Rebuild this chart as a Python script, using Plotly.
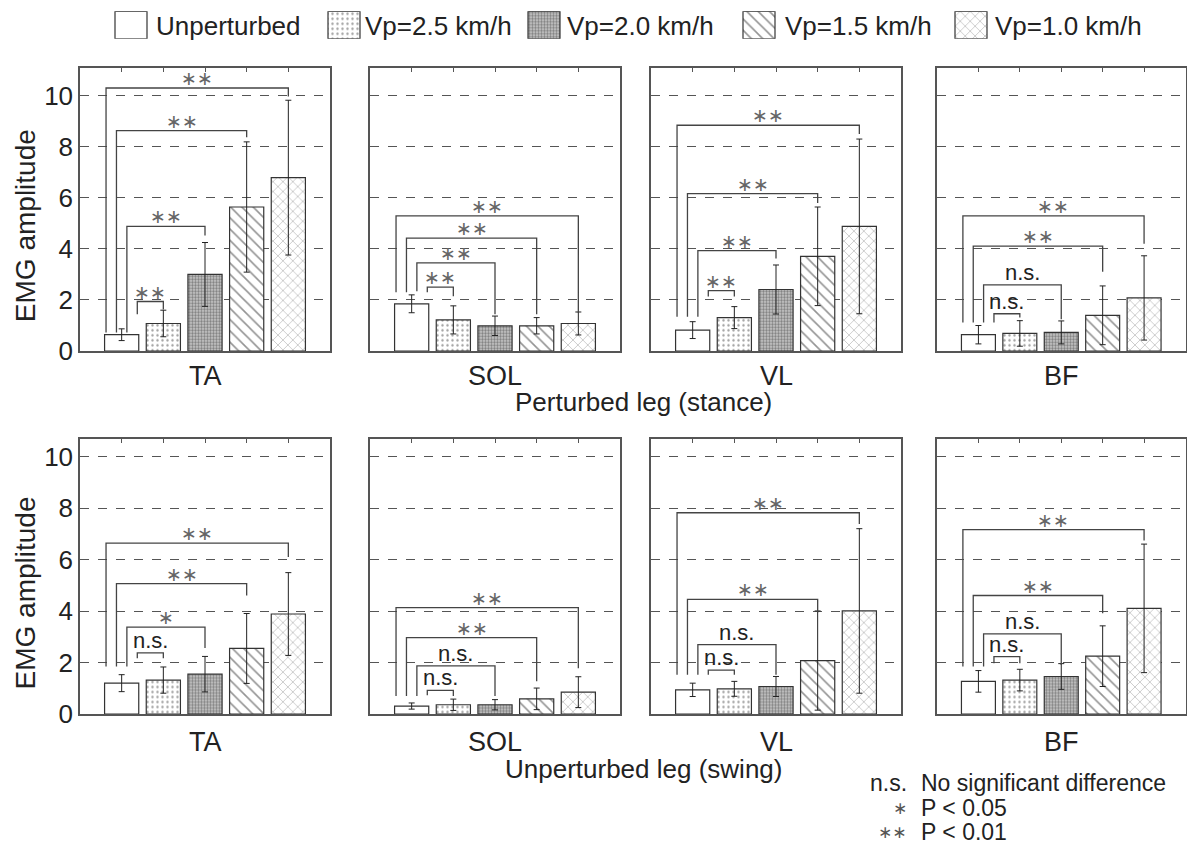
import plotly.graph_objects as go

# ---------------- data ----------------
muscles = ["TA", "SOL", "VL", "BF"]
conditions = ["Unperturbed", "Vp=2.5 km/h", "Vp=2.0 km/h", "Vp=1.5 km/h", "Vp=1.0 km/h"]
row_titles = ["Perturbed leg (stance)", "Unperturbed leg (swing)"]

# Perturbed leg (stance): mean and SD per muscle (TA, SOL, VL, BF), per condition
stance_mean_TA = [0.64, 1.08, 3.00, 5.64, 6.79]
stance_sd_TA = [0.23, 0.52, 1.25, 2.55, 3.03]
stance_mean_SOL = [1.85, 1.22, 0.99, 0.99, 1.08]
stance_sd_SOL = [0.35, 0.55, 0.38, 0.32, 0.45]
stance_mean_VL = [0.82, 1.31, 2.41, 3.71, 4.88]
stance_sd_VL = [0.33, 0.43, 0.96, 1.93, 3.42]
stance_mean_BF = [0.64, 0.69, 0.73, 1.40, 2.08]
stance_sd_BF = [0.36, 0.50, 0.45, 1.15, 1.65]

# Unperturbed leg (swing)
swing_mean_TA = [1.20, 1.32, 1.55, 2.55, 3.89]
swing_sd_TA = [0.33, 0.51, 0.69, 1.36, 1.61]
swing_mean_SOL = [0.31, 0.36, 0.36, 0.59, 0.85]
swing_sd_SOL = [0.12, 0.22, 0.20, 0.42, 0.60]
swing_mean_VL = [0.94, 0.98, 1.07, 2.08, 4.01]
swing_sd_VL = [0.26, 0.29, 0.39, 1.93, 3.20]
swing_mean_BF = [1.27, 1.32, 1.46, 2.25, 4.11]
swing_sd_BF = [0.42, 0.42, 0.50, 1.18, 2.50]

# significance brackets: Unperturbed vs. Vp=2.5, 2.0, 1.5, 1.0
compared_bar = [2, 3, 4, 5]
stance_bracket_top = [[1.94, 4.88, 8.63, 10.30], [2.50, 3.45, 4.42, 5.29],
                      [2.37, 3.93, 6.16, 8.84], [1.46, 2.59, 4.11, 5.29]]
stance_bracket_left_end = [[1.44, 0.73, 0.73, 0.73], [2.30, 2.34, 2.30, 2.30],
                           [2.14, 1.34, 1.34, 1.34], [1.12, 1.12, 1.12, 1.12]]
stance_bracket_right_end = [[1.63, 4.52, 8.37, 9.97], [2.15, 1.44, 1.44, 1.50],
                            [2.14, 3.62, 5.80, 8.50], [1.31, 1.25, 3.11, 4.20]]
stance_sig = [["**", "**", "**", "**"], ["**", "**", "**", "**"],
              ["**", "**", "**", "**"], ["n.s.", "n.s.", "**", "**"]]

swing_bracket_top = [[2.38, 3.38, 5.07, 6.65], [0.92, 1.87, 2.97, 4.14],
                     [1.71, 2.70, 4.46, 7.83], [2.23, 3.12, 4.61, 7.17]]
swing_bracket_left_end = [[2.17, 1.85, 1.85, 1.85], [0.73, 0.70, 0.70, 0.70],
                          [1.53, 1.53, 1.53, 1.53], [1.97, 1.85, 1.85, 1.85]]
swing_bracket_right_end = [[2.17, 2.57, 4.61, 6.11], [0.70, 0.70, 1.27, 1.78],
                           [1.53, 1.53, 3.95, 7.39], [1.97, 1.91, 3.92, 6.75]]
swing_sig = [["n.s.", "*", "**", "**"], ["n.s.", "n.s.", "**", "**"],
             ["n.s.", "n.s.", "**", "**"], ["n.s.", "n.s.", "**", "**"]]

y_ticks = [0, 2, 4, 6, 8, 10]

# ---------------- styling / layout ----------------
W, H = 1187, 859
FONT = "Liberation Sans, Arial, sans-serif"
STAR_FONT = "DejaVu Sans, sans-serif"
TXT = "#222222"
EDGE = "#333333"

def px_x(p):
    return p / W

def px_y(p):
    return 1 - p / H

def star(s):
    return s.replace("*", "\u2217")

col_px = [(80, 330), (370, 620), (651, 901), (937, 1185.5)]
row_px = [(69, 357.3), (447.3, 726.7)]
row_ymax = [11.09, 10.68]
leg_offset = [0.375, 0.125, -0.125, -0.375]

styles = [
    dict(color="white", line=dict(color=EDGE, width=1.2)),
    dict(color="white", line=dict(color=EDGE, width=1.2),
         pattern=dict(shape=".", size=5, solidity=0.18, fgcolor="#444444", bgcolor="white", fillmode="overlay")),
    dict(color="#c0c0c0", line=dict(color=EDGE, width=1.2),
         pattern=dict(shape=".", size=3, solidity=0.5, fgcolor="#333333", bgcolor="#cccccc", fillmode="overlay")),
    dict(color="white", line=dict(color=EDGE, width=1.2),
         pattern=dict(shape="\\", size=8, solidity=0.2, fgcolor="#2a2a2a", bgcolor="white", fillmode="overlay")),
    dict(color="white", line=dict(color=EDGE, width=1.2),
         pattern=dict(shape="x", size=7, solidity=0.18, fgcolor="#6a6a6a", bgcolor="white", fillmode="overlay")),
]

means = [[stance_mean_TA, stance_mean_SOL, stance_mean_VL, stance_mean_BF],
         [swing_mean_TA, swing_mean_SOL, swing_mean_VL, swing_mean_BF]]
sds = [[stance_sd_TA, stance_sd_SOL, stance_sd_VL, stance_sd_BF],
       [swing_sd_TA, swing_sd_SOL, swing_sd_VL, swing_sd_BF]]
b_top = [stance_bracket_top, swing_bracket_top]
b_left = [stance_bracket_left_end, swing_bracket_left_end]
b_right = [stance_bracket_right_end, swing_bracket_right_end]
b_sig = [stance_sig, swing_sig]

fig = go.Figure()
annotations = []
layout_axes = {}

for r in range(2):
    for c in range(4):
        n = r * 4 + c + 1
        xa = "x" if n == 1 else f"x{n}"
        ya = "y" if n == 1 else f"y{n}"
        xkey = "xaxis" if n == 1 else f"xaxis{n}"
        ykey = "yaxis" if n == 1 else f"yaxis{n}"
        x0, x1 = col_px[c]
        ytop, ybot = row_px[r]
        layout_axes[xkey] = dict(
            domain=[px_x(x0), px_x(x1)], range=[0, 6], anchor=ya, side="top",
            tickvals=[1, 2, 3, 4, 5], ticks="inside", ticklen=4, tickcolor="#555555",
            showticklabels=False, showline=True, linecolor="#555555", linewidth=1.5,
            mirror=True, showgrid=False, zeroline=False, fixedrange=True)
        layout_axes[ykey] = dict(
            domain=[px_y(ybot), px_y(ytop)], range=[0, row_ymax[r]], anchor=xa,
            tickvals=y_ticks, ticks="", showticklabels=(c == 0),
            tickfont=dict(size=26, color=TXT, family=FONT),
            showline=True, linecolor="#555555", linewidth=1.5, mirror=True,
            showgrid=True, gridcolor="#555555", gridwidth=1.2, griddash="dash",
            zeroline=False, fixedrange=True)

        for j in range(5):
            fig.add_trace(go.Bar(
                x=[j + 1], y=[means[r][c][j]], width=0.82, name=conditions[j],
                marker=styles[j], showlegend=False, xaxis=xa, yaxis=ya,
                error_y=dict(type="data", array=[sds[r][c][j]], color="#222222",
                             thickness=1, width=3)))

        xs, ys = [], []
        for k in range(4):
            xl = 1 + leg_offset[k]
            xr = compared_bar[k]
            h = b_top[r][c][k]
            xs += [xl, xl, xr, xr, None]
            ys += [b_left[r][c][k], h, h, b_right[r][c][k], None]
            lab = b_sig[r][c][k]
            if lab == "n.s.":
                annotations.append(dict(
                    x=(xl + xr) / 2, y=h, xref=xa, yref=ya, text=lab, showarrow=False,
                    yanchor="bottom", yshift=-2, font=dict(size=22, color=TXT, family=FONT)))
            else:
                annotations.append(dict(
                    x=(xl + xr) / 2, y=h, xref=xa, yref=ya, text=star(lab), showarrow=False,
                    yanchor="bottom", yshift=-3, font=dict(size=19, color="#666666", family=STAR_FONT)))
        fig.add_trace(go.Scatter(x=xs, y=ys, mode="lines", xaxis=xa, yaxis=ya,
                                 line=dict(color="#444444", width=1.3),
                                 showlegend=False, hoverinfo="skip"))

        # muscle label
        annotations.append(dict(
            x=px_x((x0 + x1) / 2), y=px_y(383 if r == 0 else 755), xref="paper", yref="paper",
            text=muscles[c], showarrow=False, xanchor="center", yanchor="middle",
            font=dict(size=27, color=TXT, family=FONT)))

    # row title and y title
    annotations.append(dict(
        x=px_x(643), y=px_y(409 if r == 0 else 783), xref="paper", yref="paper",
        text=row_titles[r], showarrow=False, xanchor="center", yanchor="middle",
        font=dict(size=26, color=TXT, family=FONT)))
    annotations.append(dict(
        x=px_x(25), y=px_y((row_px[r][0] + row_px[r][1]) / 2 + 17), xref="paper", yref="paper",
        text="EMG amplitude", showarrow=False, textangle=-90, xanchor="center", yanchor="middle",
        font=dict(size=28, color=TXT, family=FONT)))

# ---------------- custom legend (large pattern boxes) ----------------
leg_box_px = [131, 344, 544, 759, 971]
leg_text_px = [154, 363, 565, 783, 993]
layout_axes["xaxis9"] = dict(domain=[0, 1], range=[0, W], anchor="y9", visible=False, fixedrange=True)
layout_axes["yaxis9"] = dict(domain=[px_y(39.5), px_y(11.5)], range=[0, 1], anchor="x9",
                             visible=False, fixedrange=True)
for j in range(5):
    fig.add_trace(go.Bar(x=[leg_box_px[j]], y=[1], width=32, marker=styles[j],
                         name=conditions[j], showlegend=False, xaxis="x9", yaxis="y9",
                         hoverinfo="skip"))
    annotations.append(dict(
        x=px_x(leg_text_px[j]), y=px_y(26), xref="paper", yref="paper", text=conditions[j],
        showarrow=False, xanchor="left", yanchor="middle",
        font=dict(size=26, color=TXT, family=FONT)))

# ---------------- footnote ----------------
foot_keys = ["n.s.", "*", "**"]
foot_texts = ["No significant difference", "P < 0.05", "P < 0.01"]
foot_y = [797, 822, 847]
for i in range(3):
    if i == 0:
        kfont = dict(size=23, color=TXT, family=FONT)
        ktext = foot_keys[i]
    else:
        kfont = dict(size=17, color="#555555", family=STAR_FONT)
        ktext = star(foot_keys[i])
    annotations.append(dict(
        x=px_x(909), y=px_y(foot_y[i]), xref="paper", yref="paper",
        text=ktext, showarrow=False, xanchor="right", yanchor="middle", font=kfont))
    annotations.append(dict(
        x=px_x(919), y=px_y(foot_y[i]), xref="paper", yref="paper", text=foot_texts[i],
        showarrow=False, xanchor="left", yanchor="middle",
        font=dict(size=23, color=TXT, family=FONT)))

fig.update_layout(
    width=W, height=H, margin=dict(l=0, r=0, t=0, b=0),
    paper_bgcolor="white", plot_bgcolor="white", barmode="overlay",
    font=dict(family=FONT, color=TXT), annotations=annotations, **layout_axes)

fig.write_html("out.html")
